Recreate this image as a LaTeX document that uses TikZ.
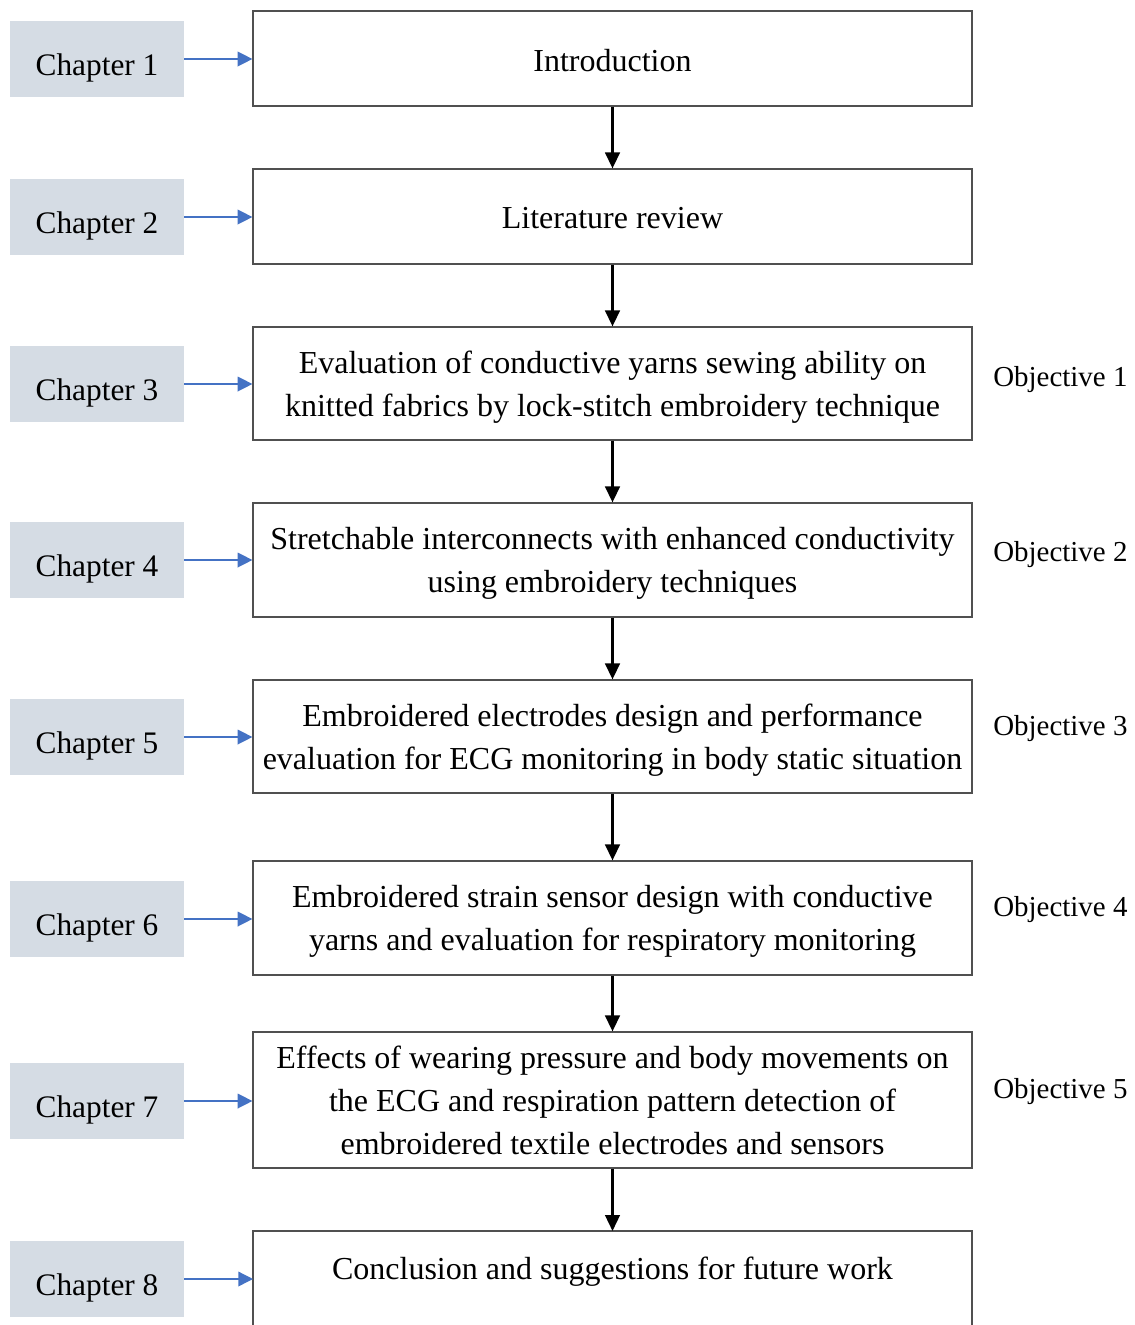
\documentclass[tikz,border=0pt]{standalone}
\usepackage{fontspec}
\setmainfont{Liberation Serif}
\usetikzlibrary{arrows.meta}
\definecolor{chapfill}{RGB}{213,220,228}
\definecolor{arrblue}{RGB}{68,114,196}
\definecolor{boxline}{RGB}{80,80,80}
\begin{document}
\begin{tikzpicture}[x=0.75pt,y=-0.75pt,
  chap/.style={fill=chapfill,draw=none,minimum width=174*0.75pt,minimum height=76*0.75pt,inner sep=0pt,text height=24pt,text depth=0pt,font=\fontsize{23.5}{27}\selectfont},
  mainbox/.style={draw=boxline,line width=0.9pt,inner sep=0pt,minimum width=719*0.75pt},
  maintext/.style={inner sep=0pt,font=\fontsize{24}{32.25}\selectfont,align=center},
  obj/.style={anchor=west,inner sep=0pt,font=\fontsize{21.7}{26}\selectfont},
  bluearr/.style={draw=arrblue,line width=1pt,-{Triangle[length=11pt,width=11pt]}},
  blackarr/.style={draw=black,line width=1.8pt,-{Triangle[length=12pt,width=11pt]}}]
\useasboundingbox (0,0) rectangle (1135,1325);
% main boxes
\begin{scope}
\clip (0,0) rectangle (1135,1325);
\node[mainbox,minimum height=95*0.75pt] (b1) at (612.5,58.5) {};
\node[mainbox,minimum height=95*0.75pt] (b2) at (612.5,216.5) {};
\node[mainbox,minimum height=113*0.75pt] (b3) at (612.5,383.5) {};
\node[mainbox,minimum height=114*0.75pt] (b4) at (612.5,560) {};
\node[mainbox,minimum height=113*0.75pt] (b5) at (612.5,736.5) {};
\node[mainbox,minimum height=114*0.75pt] (b6) at (612.5,918) {};
\node[mainbox,minimum height=136*0.75pt] (b7) at (612.5,1100) {};
\draw[boxline,line width=0.9pt] (253,1340) -- (253,1231) -- (972,1231) -- (972,1340);
\coordinate (b8top) at (612.5,1231);
\coordinate (b8w) at (253,1279);
\end{scope}
\node[maintext] (t1) at ([yshift=-1.5pt]b1.center) {Introduction};
\node[maintext] (t2) at ([yshift=-1.5pt]b2.center) {Literature review};
\node[maintext] (t3) at ([yshift=-2.5pt]b3.center) {Evaluation of conductive yarns sewing ability on\\knitted fabrics by lock-stitch embroidery technique};
\node[maintext] (t4) at ([yshift=-2.5pt]b4.center) {Stretchable interconnects with enhanced conductivity\\using embroidery techniques};
\node[maintext] (t5) at ([yshift=-2.5pt]b5.center) {Embroidered electrodes design and performance\\evaluation for ECG monitoring in body static situation};
\node[maintext] (t6) at ([yshift=-2.5pt]b6.center) {Embroidered strain sensor design with conductive\\yarns and evaluation for respiratory monitoring};
\node[maintext] (t7) at ([yshift=0pt]b7.center) {Effects of wearing pressure and body movements on\\the ECG and respiration pattern detection of\\embroidered textile electrodes and sensors};
\node[maintext] (t8) at (612.5,1272) {Conclusion and suggestions for future work};
% chapters
\node[chap] (c1) at (97,59) {Chapter 1};
\node[chap] (c2) at (97,217) {Chapter 2};
\node[chap] (c3) at (97,384) {Chapter 3};
\node[chap] (c4) at (97,560) {Chapter 4};
\node[chap] (c5) at (97,737) {Chapter 5};
\node[chap] (c6) at (97,919) {Chapter 6};
\node[chap] (c7) at (97,1101) {Chapter 7};
\node[chap] (c8) at (97,1279) {Chapter 8};
% blue arrows
\foreach \i in {1,...,7}{
  \draw[bluearr] (c\i.east) -- (c\i.east -| b\i.west);
}
\draw[bluearr] (c8.east) -- (b8w);
% black arrows
\draw[blackarr] (b1.south) -- (b2.north);
\draw[blackarr] (b2.south) -- (b3.north);
\draw[blackarr] (b3.south) -- (b4.north);
\draw[blackarr] (b4.south) -- (b5.north);
\draw[blackarr] (b5.south) -- (b6.north);
\draw[blackarr] (b6.south) -- (b7.north);
\draw[blackarr] (b7.south) -- (b8top);
% objectives
\node[obj] (o1) at (993,380) {Objective 1};
\node[obj] (o2) at (993,555) {Objective 2};
\node[obj] (o3) at (993,729) {Objective 3};
\node[obj] (o4) at (993,910) {Objective 4};
\node[obj] (o5) at (993,1092) {Objective 5};
\end{tikzpicture}
\end{document}
